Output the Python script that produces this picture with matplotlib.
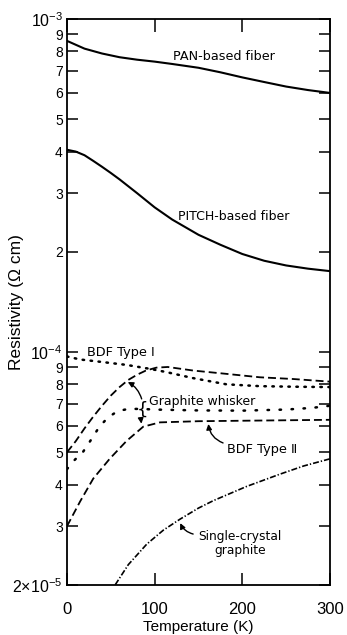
import matplotlib
matplotlib.use('Agg')
import matplotlib.pyplot as plt
from matplotlib.ticker import NullLocator

# --- data (T in K, resistivity in ohm cm) ---
pan_t = [0, 20, 40, 60, 80, 100, 120, 150, 175, 200, 225, 250, 275, 300]
pan_r = [8.6e-4, 8.15e-4, 7.88e-4, 7.68e-4, 7.55e-4, 7.45e-4, 7.33e-4, 7.14e-4,
         6.92e-4, 6.68e-4, 6.47e-4, 6.27e-4, 6.12e-4, 6.0e-4]

pitch_t = [0, 10, 20, 30, 40, 50, 60, 80, 100, 120, 150, 175, 200, 225, 250, 275, 300]
pitch_r = [4.05e-4, 4.0e-4, 3.9e-4, 3.75e-4, 3.6e-4, 3.45e-4, 3.3e-4, 3.0e-4, 2.72e-4,
           2.5e-4, 2.25e-4, 2.1e-4, 1.97e-4, 1.88e-4, 1.82e-4, 1.78e-4, 1.75e-4]

bdf1_t = [0, 15, 38, 68, 95, 114, 144, 182, 220, 258, 300]
bdf1_r = [9.7e-5, 9.5e-5, 9.35e-5, 9.15e-5, 8.9e-5, 8.7e-5, 8.35e-5, 8.0e-5, 7.9e-5, 7.87e-5, 7.85e-5]

# upper dashed curve
dash_up_t = [0, 10, 20, 30, 40, 50, 60, 70, 80, 90, 102, 115, 144, 182, 220, 258, 300]
dash_up_r = [5.0e-5, 5.4e-5, 5.9e-5, 6.4e-5, 6.9e-5, 7.4e-5, 7.85e-5, 8.25e-5, 8.55e-5, 8.8e-5,
             8.98e-5, 9.02e-5, 8.8e-5, 8.6e-5, 8.4e-5, 8.3e-5, 8.15e-5]

# middle dotted curve
dot_mid_t = [0, 9, 18, 28, 37, 47, 58, 70, 85, 100, 150, 200, 250, 280, 300]
dot_mid_r = [4.45e-5, 4.75e-5, 5.0e-5, 5.48e-5, 5.97e-5, 6.37e-5, 6.65e-5, 6.75e-5, 6.75e-5,
             6.72e-5, 6.68e-5, 6.67e-5, 6.72e-5, 6.8e-5, 6.9e-5]

# lower dashed curve
dash_lo_t = [0, 15, 30, 49, 68, 87, 106, 150, 200, 250, 300]
dash_lo_r = [3.0e-5, 3.56e-5, 4.17e-5, 4.79e-5, 5.41e-5, 5.97e-5, 6.15e-5, 6.2e-5, 6.22e-5,
             6.24e-5, 6.26e-5]

sc_t = [55, 70, 91, 110, 129, 150, 167, 205, 243, 270, 300]
sc_r = [2.0e-5, 2.3e-5, 2.65e-5, 2.92e-5, 3.15e-5, 3.4e-5, 3.58e-5, 3.95e-5, 4.3e-5, 4.55e-5, 4.78e-5]

ytick_vals = [1e-3, 9e-4, 8e-4, 7e-4, 6e-4, 5e-4, 4e-4, 3e-4, 2e-4,
              1e-4, 9e-5, 8e-5, 7e-5, 6e-5, 5e-5, 4e-5, 3e-5, 2e-5]
ytick_labels = [r'$\mathregular{10^{-3}}$', '9', '8', '7', '6', '5', '4', '3', '2',
                r'$\mathregular{10^{-4}}$', '9', '8', '7', '6', '5', '4', '3',
                r'$\mathregular{2{\times}10^{-5}}$']
xtick_vals = [0, 100, 200, 300]

fig = plt.figure(figsize=(3.47, 6.35), dpi=100)
ax = fig.add_axes([0.193, 0.079, 0.758, 0.891])
ax.set_yscale('log')
ax.set_xlim(0, 300)
ax.set_ylim(2e-5, 1e-3)

k = 'black'
ax.plot(pan_t, pan_r, color=k, lw=1.5)
ax.plot(pitch_t, pitch_r, color=k, lw=1.5)
ax.plot(bdf1_t, bdf1_r, color=k, lw=1.8, linestyle=(0, (0.6, 2.6)), dash_capstyle='round')
ax.plot(dash_up_t, dash_up_r, color=k, lw=1.3, linestyle=(0, (4.4, 2.2)))
ax.plot(dot_mid_t, dot_mid_r, color=k, lw=1.8, linestyle=(0, (0.6, 4.2)), dash_capstyle='round')
ax.plot(dash_lo_t, dash_lo_r, color=k, lw=1.3, linestyle=(0, (4.4, 2.2)))
ax.plot(sc_t, sc_r, color=k, lw=1.2, linestyle=(0, (3.6, 1.2, 0.8, 1.2)))

# ticks
ax.yaxis.set_minor_locator(NullLocator())
ax.set_yticks(ytick_vals)
ax.set_yticklabels(ytick_labels, family='Liberation Sans')
for v, lab in zip(ytick_vals, ax.get_yticklabels()):
    lab.set_fontsize(11.5 if v in (1e-3, 1e-4, 2e-5) else 10)
ax.set_xticks(xtick_vals)
ax.set_xticklabels([str(v) for v in xtick_vals], family='Liberation Sans', fontsize=12)
ax.tick_params(axis='y', which='both', direction='in', left=True, right=True, length=8, width=1.1, pad=3)
ax.tick_params(axis='x', which='both', direction='in', top=True, bottom=True, length=9, width=1.1, pad=12)
for s in ax.spines.values():
    s.set_linewidth(1.3)

ax.set_xlabel('Temperature (K)', family='Liberation Sans', fontsize=11)
ax.xaxis.set_label_coords(0.5, -0.062)
ax.set_ylabel('Resistivity (Ω cm)', family='Liberation Sans', fontsize=12.5)
ax.yaxis.set_label_coords(-0.165, 0.5)

# labels on the curves
ax.text(121, 7.52e-4, 'PAN-based fiber', fontsize=9.2, va='baseline')
ax.text(126.6, 2.5e-4, 'PITCH-based fiber', fontsize=9, va='baseline')
ax.text(22.8, 9.97e-5, 'BDF Type Ⅰ', fontsize=9.3, va='center')
ax.text(93.5, 7.1e-5, 'Graphite whisker', fontsize=9, va='center')
ax.text(182, 5.1e-5, 'BDF Type Ⅱ', fontsize=9.3, va='center')
ax.text(197, 2.67e-5, 'Single-crystal\ngraphite', fontsize=8.8, va='center', ha='center',
        linespacing=1.1)

ax.text(86, 6.7e-5, '{', fontsize=13, va='center', ha='center')
arr = dict(arrowstyle='-|>', color=k, lw=1.0, mutation_scale=8)
ax.annotate('', xy=(66.5, 8.2e-5), xytext=(86, 7.1e-5),
            arrowprops=dict(arr, connectionstyle='arc3,rad=0.25'))
ax.annotate('', xy=(85.5, 5.98e-5), xytext=(85, 6.35e-5),
            arrowprops=dict(arr, connectionstyle='arc3,rad=0.1'))
ax.annotate('', xy=(161, 6.2e-5), xytext=(181, 5.3e-5),
            arrowprops=dict(arr, connectionstyle='arc3,rad=-0.35'))
ax.annotate('', xy=(128, 3.12e-5), xytext=(147, 2.83e-5),
            arrowprops=dict(arr, connectionstyle='arc3,rad=-0.3'))

fig.savefig('out.png', dpi=100)
